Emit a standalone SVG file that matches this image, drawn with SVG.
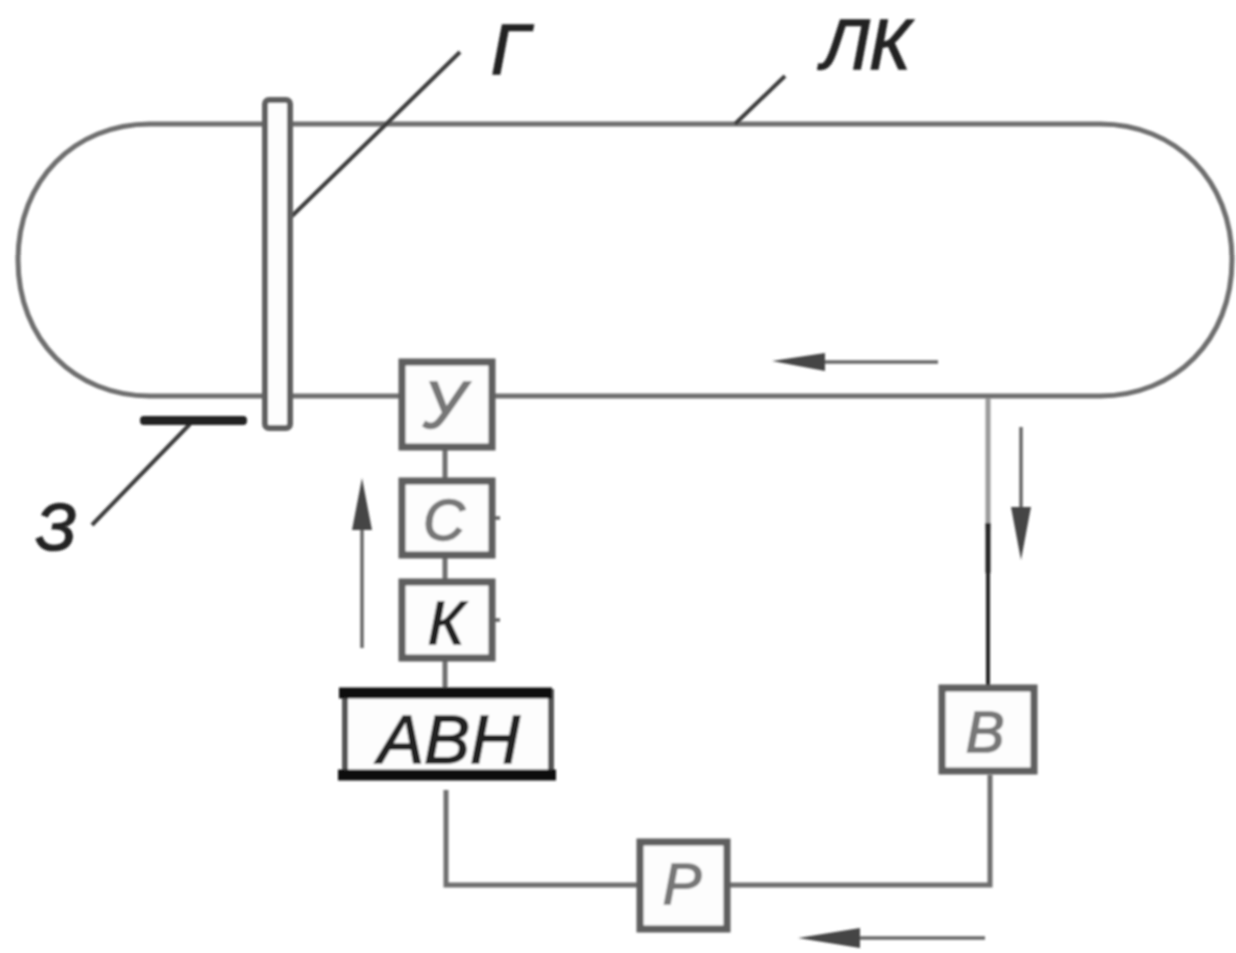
<svg xmlns="http://www.w3.org/2000/svg" width="1236" height="953" viewBox="0 0 1236 953">
<defs><filter id="soft" x="-2%" y="-2%" width="104%" height="104%"><feGaussianBlur stdDeviation="1.1"/></filter></defs>
<style>
.l{fill:none;stroke:#6e6e6e;stroke-width:5}
.d{fill:none;stroke:#3a3a3a;stroke-width:4}
.b{fill:#fdfdfd;stroke:#5e5e5e;stroke-width:7}
.t{font-family:"Liberation Sans",Arial,sans-serif;font-style:italic;text-anchor:middle;fill:#222;stroke:#222;stroke-width:1.5}
.f{fill:#777;stroke:#777}
.s{fill:none;stroke:#666;stroke-width:3.5}
.a{fill:#444}
</style>
<rect width="1236" height="953" fill="#fff"/>
<g filter="url(#soft)">
<g id="connectors">
<path class="l" d="M265 124H150C75 124 18 180 18 260S75 396 150 396H265M290 396H1100C1175 396 1232 340 1232 260S1175 124 1100 124H290"/>
<path class="l" style="stroke:#999" d="M988 398V530"/>
<path class="l" d="M445 450V480M445 556V582M445 660V692"/>
<path class="d" style="stroke-width:5;stroke:#222" d="M988 523V573"/>
<path class="d" style="stroke:#222" d="M988 573V686"/>
<path class="l" d="M990 775V885H730M638 885H446V790"/>
<path class="d" d="M290 218L460 52M735 124L785 76M92 525L190 424"/>
<path class="s" d="M815 362H938M1021 427V510M362 525V648M850 938H985"/>
<path class="a" d="M772 361L825 353V371ZM1021 560L1011 507H1031ZM362 478L352 530H372ZM798 938L860 928V948Z"/>
<path class="s" d="M494 518L500 518M494 620L500 620"/>
</g>
<g id="node-g"><rect class="b" style="stroke-width:6" x="265" y="100" width="25" height="328" rx="4"/></g>
<g id="node-z"><rect x="140" y="416" width="107" height="9" rx="4" fill="#222"/></g>
<g id="node-u"><rect class="b" x="402" y="362" width="90" height="85"/><text class="t f" x="444" y="428" font-size="66">У</text></g>
<g id="node-c"><rect class="b" x="402" y="481" width="90" height="74"/><text class="t f" x="444" y="540" font-size="58">С</text></g>
<g id="node-k"><rect class="b" x="402" y="582" width="90" height="76"/><text class="t" x="446" y="644" font-size="62">К</text></g>
<g id="node-avn"><rect x="345" y="692" width="206" height="82" fill="#fdfdfd" stroke="#555" stroke-width="6"/><path d="M339 693H552M338 775H556" stroke="#111" stroke-width="11" fill="none"/><text class="t" x="449" y="763" font-size="69">АВН</text></g>
<g id="node-v"><rect class="b" x="942" y="688" width="92" height="83"/><text class="t f" x="985" y="752" font-size="58">В</text></g>
<g id="node-p"><rect class="b" x="640" y="842" width="87" height="87"/><text class="t f" x="682" y="904" font-size="58">Р</text></g>
<text class="t" x="510" y="74" font-size="70">Г</text>
<text class="t" x="866" y="69" font-size="70">ЛК</text>
<text class="t" x="56" y="550" font-size="66">З</text>
</g>
</svg>
